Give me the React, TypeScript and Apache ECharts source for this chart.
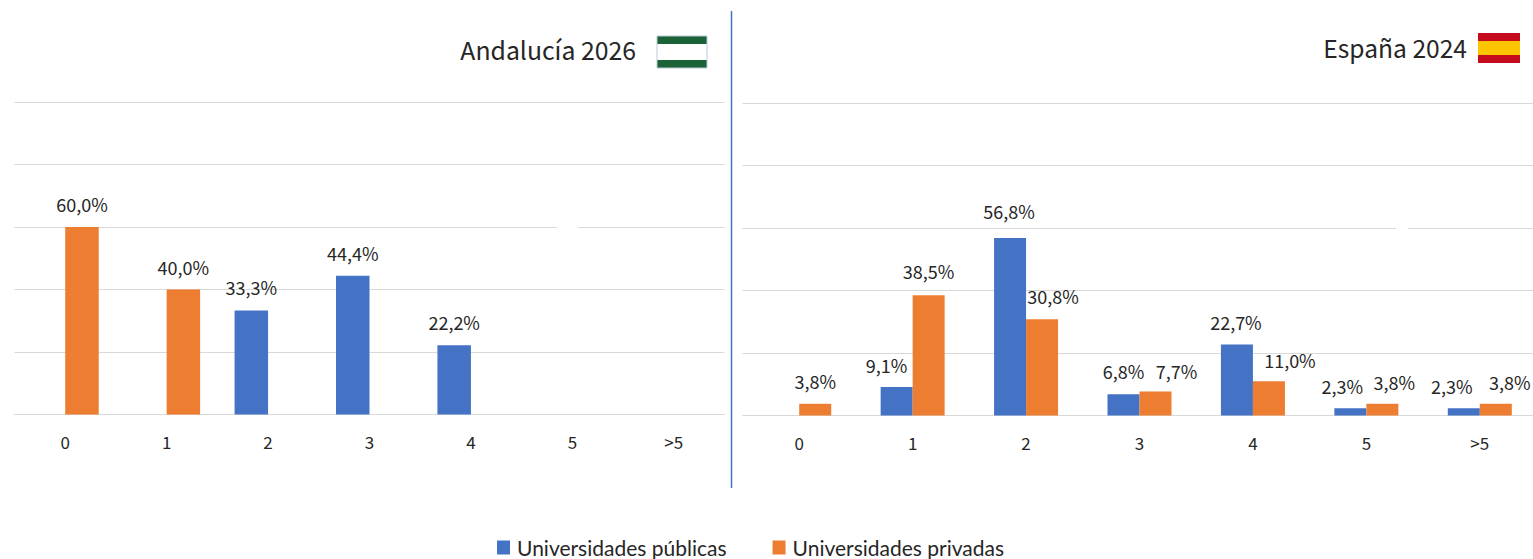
import React, { useEffect, useRef } from "react";
import * as echarts from "echarts";

const categories = ["0", "1", "2", "3", "4", "5", ">5"];
const andaluciaPublicas = [null, null, 33.3, 44.4, 22.2, null, null];
const andaluciaPrivadas = [60.0, 40.0, null, null, null, null, null];
const espanaPublicas = [null, 9.1, 56.8, 6.8, 22.7, 2.3, 2.3];
const espanaPrivadas = [3.8, 38.5, 30.8, 7.7, 11.0, 3.8, 3.8];
const nombrePublicas = "Universidades públicas";
const nombrePrivadas = "Universidades privadas";
const tituloAndalucia = "Andalucía 2026";
const tituloEspana = "España 2024";

// hand-placed data labels of the original (dx, dy from the default spot)
const offsetsPublicasEs = [[0, 0], [-10, 1], [-1, -4], [0, 0], [-1, 0], [-8, 1], [-12, 1]];
const offsetsPrivadasEs = [[0, 0], [0, -1], [11, 0], [21, 3], [21, 2], [12, 1], [14, 1]];

const BLUE = "#4472C4";
const ORANGE = "#ED7D31";
const FONT = '"Noto Sans CJK SC", "Noto Sans", sans-serif';
const LEGEND_FONT = 'Lato, "Noto Sans", sans-serif';
const TEXT = "#262626";

const fmt = (p: any) => Number(p.value).toFixed(1).replace(".", ",") + "%";

function barSeries(
  name: string,
  values: (number | null)[],
  color: string,
  idx: number,
  width: number,
  offsets?: number[][],
) {
  return {
    name,
    type: "bar",
    xAxisIndex: idx,
    yAxisIndex: idx,
    data: values.map((value, i) =>
      offsets ? { value, label: { offset: offsets[i] } } : { value },
    ),
    barWidth: width,
    barGap: "0%",
    itemStyle: { color },
    label: {
      show: true,
      position: "top",
      distance: 14,
      formatter: fmt,
      color: TEXT,
      fontFamily: FONT,
      fontSize: 18,
    },
  };
}

function xAxis(idx: number) {
  return {
    type: "category",
    gridIndex: idx,
    data: categories,
    axisLine: { lineStyle: { color: "#D9D9D9", width: 1 } },
    axisTick: { show: false },
    axisLabel: { color: TEXT, fontFamily: FONT, fontSize: 17, margin: 18 },
  };
}

function yAxis(idx: number) {
  return {
    type: "value",
    gridIndex: idx,
    min: 0,
    max: 100,
    interval: 20,
    axisLine: { show: false },
    axisTick: { show: false },
    axisLabel: { show: false },
    splitLine: { lineStyle: { color: "#D9D9D9", width: 1 } },
  };
}

function flagBand(x: number, y: number, w: number, h: number, fill: string) {
  return { type: "rect", shape: { x, y, width: w, height: h }, style: { fill }, z: 10 };
}

export default function App() {
  const ref = useRef<HTMLDivElement>(null);
  useEffect(() => {
    document.body.style.margin = "0";
    const chart = echarts.init(ref.current!, undefined, { renderer: "svg" });
    chart.setOption({
      animation: false,
      backgroundColor: "#FFFFFF",
      grid: [
        { left: 14.5, top: 102, width: 710, height: 312.5 },
        { left: 742.5, top: 103, width: 794, height: 312.5 },
      ],
      xAxis: [xAxis(0), xAxis(1)],
      yAxis: [yAxis(0), yAxis(1)],
      legend: {
        left: 492,
        top: 532,
        itemWidth: 13,
        itemHeight: 14,
        itemGap: 46,
        icon: "rect",
        data: [nombrePublicas, nombrePrivadas],
        textStyle: { color: TEXT, fontFamily: LEGEND_FONT, fontSize: 21, lineHeight: 20, padding: [0, 0, 0, 2] },
      },
      series: [
        barSeries(nombrePublicas, andaluciaPublicas, BLUE, 0, 33.5),
        barSeries(nombrePrivadas, andaluciaPrivadas, ORANGE, 0, 33.5),
        barSeries(nombrePublicas, espanaPublicas, BLUE, 1, 32, offsetsPublicasEs),
        barSeries(nombrePrivadas, espanaPrivadas, ORANGE, 1, 32, offsetsPrivadasEs),
      ],
      graphic: [
        { type: "line", shape: { x1: 731.5, y1: 11, x2: 731.5, y2: 488 }, style: { stroke: BLUE, lineWidth: 1.5 }, z: 10 },
        { type: "text", style: { x: 636, y: 49, text: tituloAndalucia, textAlign: "right", textVerticalAlign: "middle", fill: TEXT, font: `24.8px ${FONT}` }, z: 10 },
        { type: "text", style: { x: 1467, y: 47, text: tituloEspana, textAlign: "right", textVerticalAlign: "middle", fill: TEXT, font: `24.6px ${FONT}` }, z: 10 },
        flagBand(657, 36, 50, 32, "#FFFFFF"),
        flagBand(657, 36, 50, 8, "#1B6237"),
        flagBand(657, 60, 50, 8, "#1B6237"),
        { type: "rect", shape: { x: 657, y: 36, width: 50, height: 32 }, style: { fill: "none", stroke: "#B9CBD8", lineWidth: 1 }, z: 11 },
        flagBand(1478, 33, 42, 30, "#C60B1E"),
        flagBand(1478, 41, 42, 14, "#FFC400"),
        flagBand(557, 224, 21, 4, "#FFFFFF"),
        flagBand(1396, 226, 12, 4, "#FFFFFF"),
      ],
    });
    return () => chart.dispose();
  }, []);
  return (
    <div style={{ width: 1533, height: 559, overflow: "hidden" }}>
      <div ref={ref} style={{ width: 1540, height: 559 }} />
    </div>
  );
}
